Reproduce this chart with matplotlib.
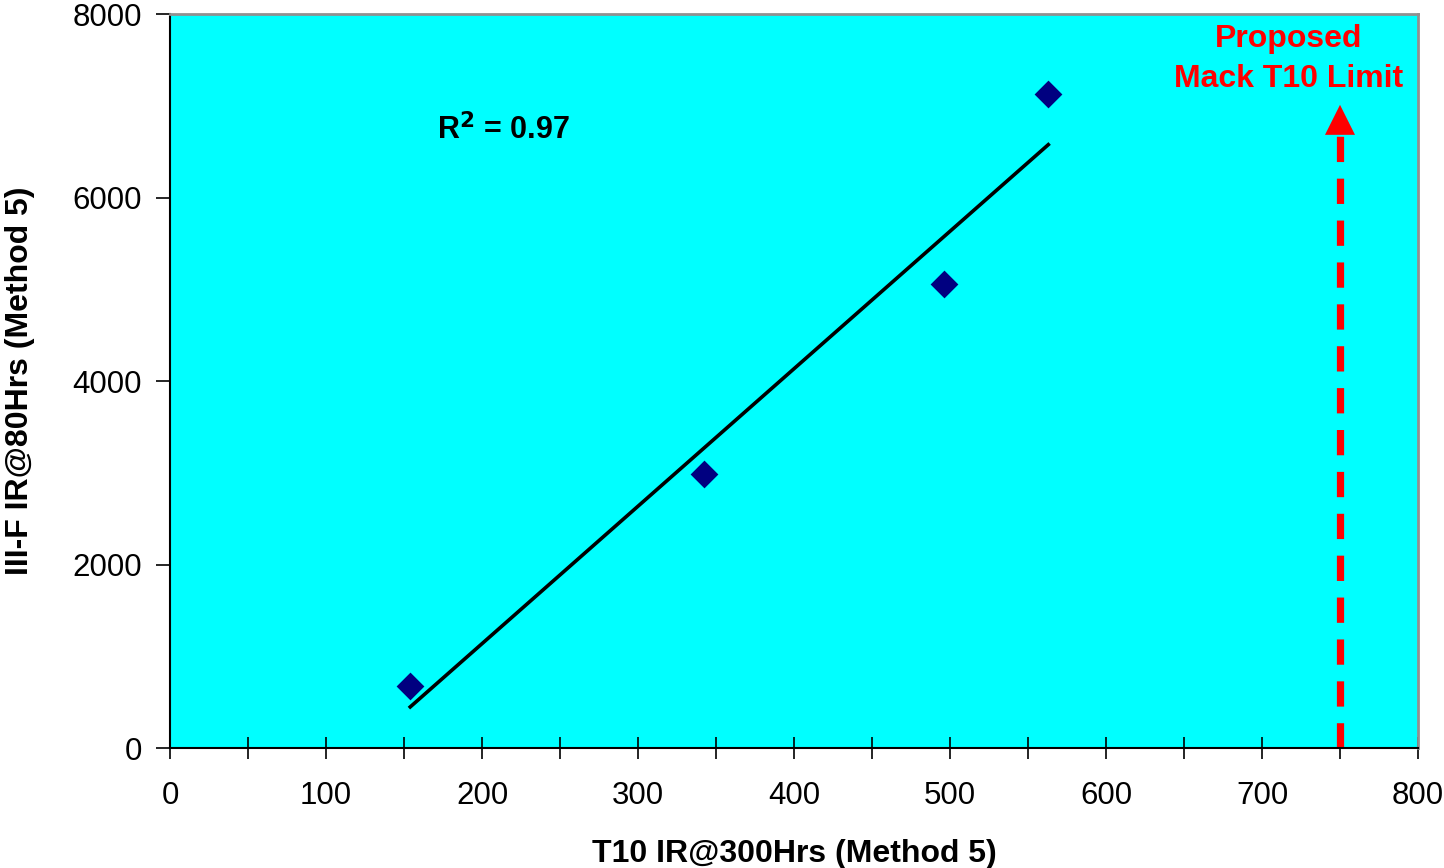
import numpy as np
import matplotlib.pyplot as plt
from matplotlib.ticker import MultipleLocator

plt.rcParams['font.family'] = ['Liberation Sans', 'DejaVu Sans']

# 数据
t10_ir = [154, 342, 496, 563]
iiif_ir = [680, 2990, 5060, 7130]
limit_x = 750
limit_top = 7010

fig = plt.figure(figsize=(14.44, 8.68), dpi=100)
ax = fig.add_axes([170 / 1444, 1 - 748 / 868, 1248 / 1444, 734 / 868])
ax.set_facecolor('#00ffff')

ax.scatter(t10_ir, iiif_ir, marker='D', s=200, color='#000080', zorder=3, linewidths=0)

# 线性趋势线
k, b = np.polyfit(t10_ir, iiif_ir, 1)
xs = np.array([min(t10_ir), max(t10_ir)])
ax.plot(xs, k * xs + b, color='black', lw=2.6, zorder=2)

# 提议限值
ax.plot([limit_x, limit_x], [0, limit_top - 300], color='red', lw=5.2,
        dashes=(3.5, 2.3), zorder=2)
ax.annotate('', xy=(limit_x, limit_top), xytext=(limit_x, limit_top - 330),
            arrowprops=dict(arrowstyle='-|>,head_length=1.08,head_width=0.54',
                            mutation_scale=20, color='red', lw=0,
                            shrinkA=0, shrinkB=0))
ax.text(717, 7730, 'Proposed', color='red', fontsize=23, fontweight='bold',
        ha='center', va='center')
ax.text(717, 7290, 'Mack T10 Limit', color='red', fontsize=23, fontweight='bold',
        ha='center', va='center')

ax.text(171, 6730, r'R$^{\mathbf{2}}$ = 0.97', fontsize=22, fontweight='bold',
        ha='left', va='center')

ax.set_xlim(0, 800)
ax.set_ylim(0, 8000)
ax.xaxis.set_major_locator(MultipleLocator(100))
ax.xaxis.set_minor_locator(MultipleLocator(50))
ax.yaxis.set_major_locator(MultipleLocator(2000))
ax.tick_params(axis='x', which='both', direction='inout', length=16, width=1.2,
               labelsize=22.5, pad=16)
ax.tick_params(axis='y', which='major', direction='out', length=10, width=1.2,
               labelsize=22.5, pad=10)

for s in ['top', 'right']:
    ax.spines[s].set_color('#909090')
    ax.spines[s].set_linewidth(2)
for s in ['left', 'bottom']:
    ax.spines[s].set_linewidth(1.5)

ax.set_xlabel('T10 IR@300Hrs (Method 5)', fontsize=23, fontweight='bold', labelpad=20)
ylab = ax.set_ylabel('III-F IR@80Hrs (Method 5)', fontsize=23, fontweight='bold')
ax.yaxis.set_label_coords(-0.1202, 0.501)
ylab.set_va('center')

plt.savefig('out.png', dpi=100)
